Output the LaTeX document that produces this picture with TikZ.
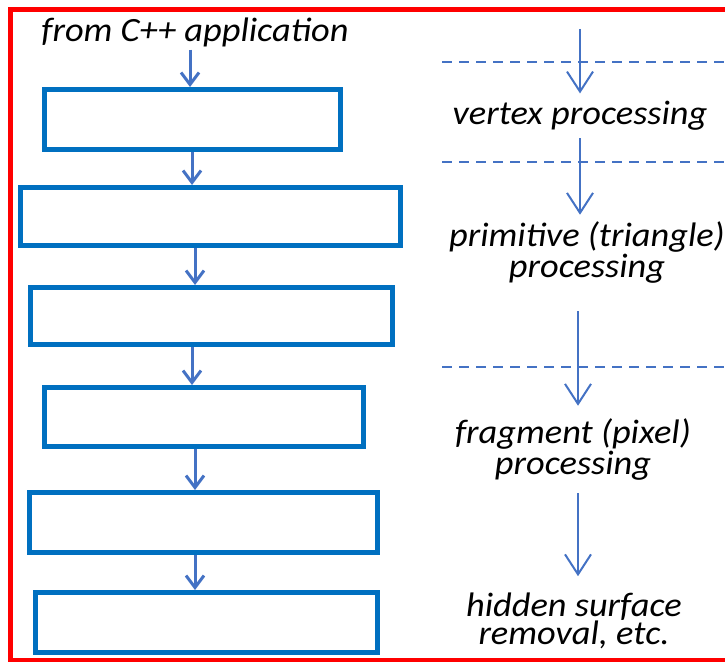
\documentclass[tikz,border=0pt]{standalone}
\usepackage{fontspec}
\setmainfont{Carlito}[FakeStretch=1.07]
\usetikzlibrary{arrows.meta,positioning}
\definecolor{boxblue}{RGB}{0,112,192}
\definecolor{arrblue}{RGB}{68,114,196}

\begin{document}
\begin{tikzpicture}[x=1pt,y=1pt]
\tikzstyle{every node}+=[inner sep=0pt]
\tikzstyle{stage}=[draw=boxblue,line width=5pt,rectangle]
\tikzstyle{lbl}=[font=\fontsize{34}{28}\selectfont\itshape,align=center,anchor=base]
\tikzstyle{flow}=[arrblue,line width=3pt,-{Straight Barb[length=12pt,width=18pt]}]
\tikzstyle{pass}=[arrblue,line width=2pt,-{Straight Barb[length=20pt,width=26pt]}]
\tikzstyle{cut}=[arrblue,line width=2pt,dash pattern=on 10pt off 7pt]
\useasboundingbox (0,0) rectangle (725,-661);
\draw [red,line width=5pt] (10,-9.5) rectangle (760,-660);
\node [lbl] (src) at (195,-42) {from C++ application};
\node [stage,minimum width=296pt,minimum height=60pt] (b1) at (192.5,-119.5) {};
\node [stage,minimum width=380pt,minimum height=58pt] (b2) at (210.5,-216.5) {};
\node [stage,minimum width=362pt,minimum height=57pt] (b3) at (211.5,-316) {};
\node [stage,minimum width=319pt,minimum height=59pt] (b4) at (204,-417) {};
\node [stage,minimum width=348pt,minimum height=60pt] (b5) at (203.5,-522.5) {};
\node [stage,minimum width=342pt,minimum height=60pt] (b6) at (206.5,-622.5) {};
\draw [flow,shorten <=2pt] (src.south -| 190,0) -- (b1.north -| 190,0);
\draw [flow] (b1.south -| 192,0) -- (b2.north -| 192,0);
\draw [flow] (b2.south -| 195,0) -- (b3.north -| 195,0);
\draw [flow] (b3.south -| 192,0) -- (b4.north -| 192,0);
\draw [flow] (b4.south -| 195,0) -- (b5.north -| 195,0);
\draw [flow] (b5.south -| 195,0) -- (b6.north -| 195,0);
\node [lbl] (vtx) at (580,-124) {vertex processing};
\node [lbl] (prim) at (587,-277) {primitive (triangle)\\processing};
\node [lbl] (frag) at (573,-474) {fragment (pixel)\\processing};
\node [lbl] (hid) at (574,-644) {hidden surface\\removal, etc.};
\coordinate (app) at (580,-29);
\draw [cut] (442,-62) -- (725,-62);
\draw [cut] (442,-162) -- (725,-162);
\draw [cut] (442,-367) -- (725,-367);
\draw [pass] (app) -- ([yshift=7pt]vtx.north -| 580,0);
\draw [pass,shorten <=8pt] (vtx.south -| 580,0) -- ([yshift=7pt]prim.north -| 580,0);
\draw [pass,shorten <=28pt] (prim.south -| 578,0) -- ([yshift=13pt]frag.north -| 578,0);
\draw [pass,shorten <=13pt] (frag.south -| 578,0) -- ([yshift=16pt]hid.north -| 578,0);
\end{tikzpicture}
\end{document}
